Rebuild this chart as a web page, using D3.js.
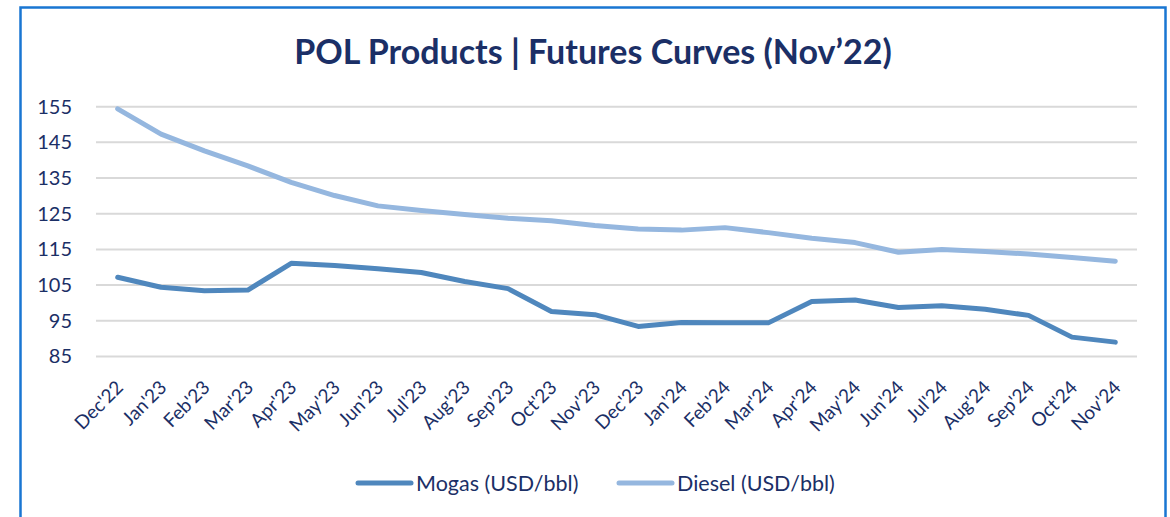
<!DOCTYPE html>
<meta charset="utf-8">
<script src="https://d3js.org/d3.v7.min.js"></script>
<style>
  body { margin: 0; background: #fff; }
</style>
<body>
  <div id="chart"></div>
</body>
<script>
  // months on the x axis
  var months = ["Dec'22", "Jan'23", "Feb'23", "Mar'23", "Apr'23", "May'23", "Jun'23", "Jul'23",
    "Aug'23", "Sep'23", "Oct'23", "Nov'23", "Dec'23", "Jan'24", "Feb'24", "Mar'24",
    "Apr'24", "May'24", "Jun'24", "Jul'24", "Aug'24", "Sep'24", "Oct'24", "Nov'24"];

  var mogas = [107.2, 104.4, 103.4, 103.6, 111.1, 110.5, 109.6, 108.5, 106.0, 104.0, 97.6, 96.7,
    93.4, 94.5, 94.4, 94.4, 100.4, 100.8, 98.7, 99.2, 98.2, 96.5, 90.4, 89.0];

  var diesel = [154.4, 147.3, 142.6, 138.4, 133.8, 130.1, 127.2, 125.9, 124.8, 123.7, 123.0, 121.7,
    120.7, 120.4, 121.1, 119.7, 118.1, 116.9, 114.2, 115.0, 114.4, 113.7, 112.7, 111.7];

  var yTicks = [85, 95, 105, 115, 125, 135, 145, 155];

  var W = 1170, H = 517;
  var navy = "#1b2f66";

  var svg = d3.select("#chart").append("svg")
    .attr("width", W)
    .attr("height", H)
    .style("font-family", "Lato, 'Open Sans', sans-serif");

  // outer frame
  svg.append("rect")
    .attr("x", 20.5).attr("y", 7.5)
    .attr("width", 1145).attr("height", 530)
    .attr("fill", "none")
    .attr("stroke", "#1976d2")
    .attr("stroke-width", 2.5);

  svg.append("text")
    .attr("x", 593).attr("y", 64)
    .attr("text-anchor", "middle")
    .attr("fill", navy)
    .style("font-size", "34px")
    .style("font-weight", "bold")
    .text("POL Products | Futures Curves (Nov\u201922)");

  var x = d3.scaleBand().domain(months).range([96, 1137]).padding(0);
  var y = d3.scaleLinear().domain([85, 155]).range([356.4, 106.7]);

  // gridlines
  svg.append("g")
    .selectAll("line")
    .data(yTicks)
    .enter().append("line")
    .attr("x1", 96).attr("x2", 1137)
    .attr("y1", function (d) { return y(d); })
    .attr("y2", function (d) { return y(d); })
    .attr("stroke", "#d9d9d9")
    .attr("stroke-width", 2);

  // y axis labels
  var yAxis = svg.append("g")
    .attr("transform", "translate(86,0)")
    .call(d3.axisLeft(y).tickValues(yTicks).tickSize(0).tickPadding(14));
  yAxis.select(".domain").remove();
  yAxis.selectAll("text")
    .attr("fill", navy)
    .style("font-size", "20px")
    .style("font-family", "Lato, 'Open Sans', sans-serif");

  // x axis labels
  var xAxis = svg.append("g")
    .attr("transform", "translate(0,376)")
    .call(d3.axisBottom(x).tickSize(0).tickPadding(0));
  xAxis.select(".domain").remove();
  xAxis.selectAll("text")
    .attr("fill", navy)
    .style("font-size", "19px")
    .style("font-family", "Lato, 'Open Sans', sans-serif")
    .attr("text-anchor", "end")
    .attr("dy", "0.35em")
    .attr("transform", "translate(2,8) rotate(-45)");

  var line = d3.line()
    .x(function (d, i) { return x(months[i]) + x.bandwidth() / 2; })
    .y(function (d) { return y(d); });

  var series = [
    { name: "Mogas (USD/bbl)", values: mogas, color: "#4f87bd" },
    { name: "Diesel (USD/bbl)", values: diesel, color: "#95b7df" }
  ];

  series.slice().reverse().forEach(function (s) {
    svg.append("path")
      .datum(s.values)
      .attr("d", line)
      .attr("fill", "none")
      .attr("stroke", s.color)
      .attr("stroke-width", 5)
      .attr("stroke-linecap", "round")
      .attr("stroke-linejoin", "round");
  });

  // legend
  var legendX = [358, 619];
  series.forEach(function (s, i) {
    var g = svg.append("g").attr("transform", "translate(" + legendX[i] + ",483)");
    g.append("line")
      .attr("x1", 0).attr("x2", 53)
      .attr("stroke", s.color)
      .attr("stroke-width", 5)
      .attr("stroke-linecap", "round");
    g.append("text")
      .attr("x", 58).attr("y", 7.5)
      .attr("fill", navy)
      .style("font-size", "21.5px")
      .text(s.name);
  });
</script>
